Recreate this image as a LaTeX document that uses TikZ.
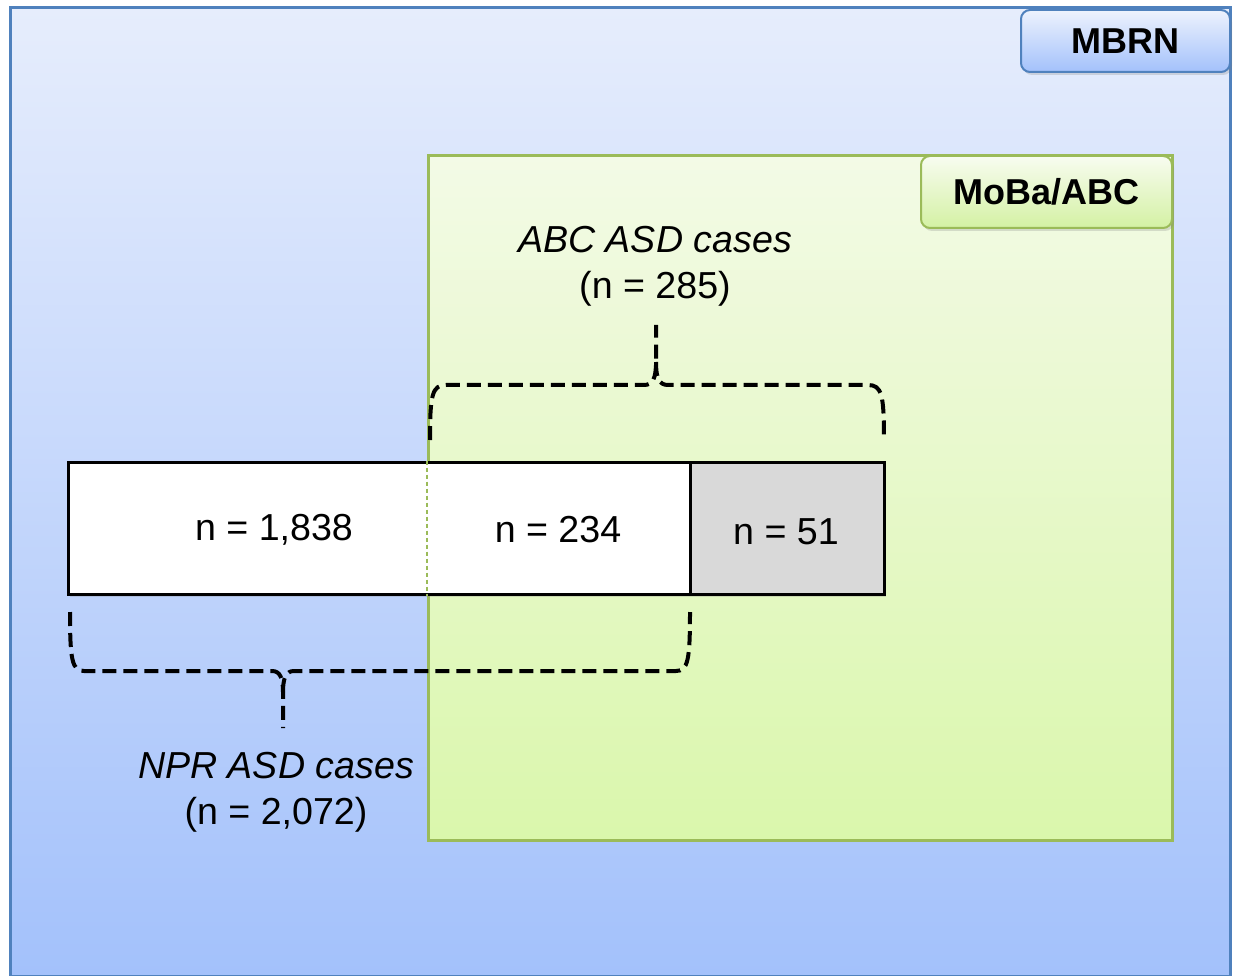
\documentclass[tikz,border=0pt]{standalone}
\usepackage{fontspec}
\setmainfont{Liberation Sans}
\usetikzlibrary{positioning,calc,shadows}

\definecolor{mbrnline}{HTML}{4F81BD}
\definecolor{mbrntop}{HTML}{E6EDFC}
\definecolor{mbrnbot}{HTML}{A3C1FB}
\definecolor{mobaline}{HTML}{9BBB59}
\definecolor{mobatop}{HTML}{F3FAE6}
\definecolor{mobabot}{HTML}{DAF7AC}
\definecolor{onlyabc}{HTML}{D9D9D9}

\begin{document}
\begin{tikzpicture}[x=1pt,y=-1pt,
  every node/.append style={inner sep=0pt,font=\fontsize{37.6}{46}\selectfont},
  area/.style={draw,line width=3pt},
  tag/.style={draw,line width=2pt,rounded corners=9pt,
    font=\bfseries\fontsize{36}{44}\selectfont,
    drop shadow={opacity=0.25,shadow xshift=2pt,shadow yshift=-3pt}},
  part/.style={draw=black,line width=3pt,minimum height=132pt,
    drop shadow={opacity=0.25,shadow xshift=2pt,shadow yshift=-3pt}},
  brace/.style={line width=4pt,dash pattern=on 14pt off 7pt}]
\useasboundingbox[fill=white] (0,0) rectangle (1235,976);

% registries
\node[area,draw=mbrnline,top color=mbrntop,bottom color=mbrnbot,
  minimum width=1220pt,minimum height=968pt] (mbrn) at (620,492) {};
\node[tag,draw=mbrnline,top color=mbrntop!70!white,bottom color=mbrnbot,
  minimum width=209pt,minimum height=62pt] (mbrntag) at (1125.5,41) {MBRN};
\node[area,draw=mobaline,top color=mobatop,bottom color=mobabot,
  minimum width=744pt,minimum height=684pt] (moba) at (800,498) {};
\node[tag,draw=mobaline,top color=mobatop!60!white,bottom color=mobabot!90!mobaline,
  minimum width=251pt,minimum height=72pt] (mobatag) at (1046.5,192) {MoBa/ABC};

% cases bar
\node[part,fill=white,minimum width=622pt] (npr) at (379,528) {};
\node[part,fill=onlyabc,minimum width=194pt] (abc) at (787,528) {};
\draw[mobaline,line width=2pt,dash pattern=on 4pt off 3pt]
  (npr.north -| moba.west) -- (npr.south -| moba.west);
\node (n1) at (274,530) {n = 1,838};
\node (n2) at (558,530) {n = 234};
\node (n3) at (786,532) {n = 51};

% braces
\coordinate (abctip) at (656,325);
\coordinate (nprtip) at (283,728);
\draw[brace] (430,440) .. controls (430,395) and (432,385) .. (446,385)
  -- (644,385) .. controls (653,385) and (656,378) .. (656,362) -- (abctip);
\draw[brace] (656,362) .. controls (656,378) and (659,385) .. (668,385)
  -- (868,385) .. controls (882,385) and (884,395) .. (884,440);
\draw[brace] (70,612) .. controls (70,660) and (72,671) .. (84,671)
  -- (272,671) .. controls (280,671) and (283,678) .. (283,692) -- (nprtip);
\draw[brace] (283,692) .. controls (283,678) and (286,671) .. (294,671)
  -- (676,671) .. controls (688,671) and (690,660) .. (690,612);

\node[align=center] (abctxt) at (655,266) {\textit{ABC ASD cases}\\(n = 285)};
\node[align=center] (nprtxt) at (276,792) {\textit{NPR ASD cases}\\(n = 2,072)};
\end{tikzpicture}
\end{document}
